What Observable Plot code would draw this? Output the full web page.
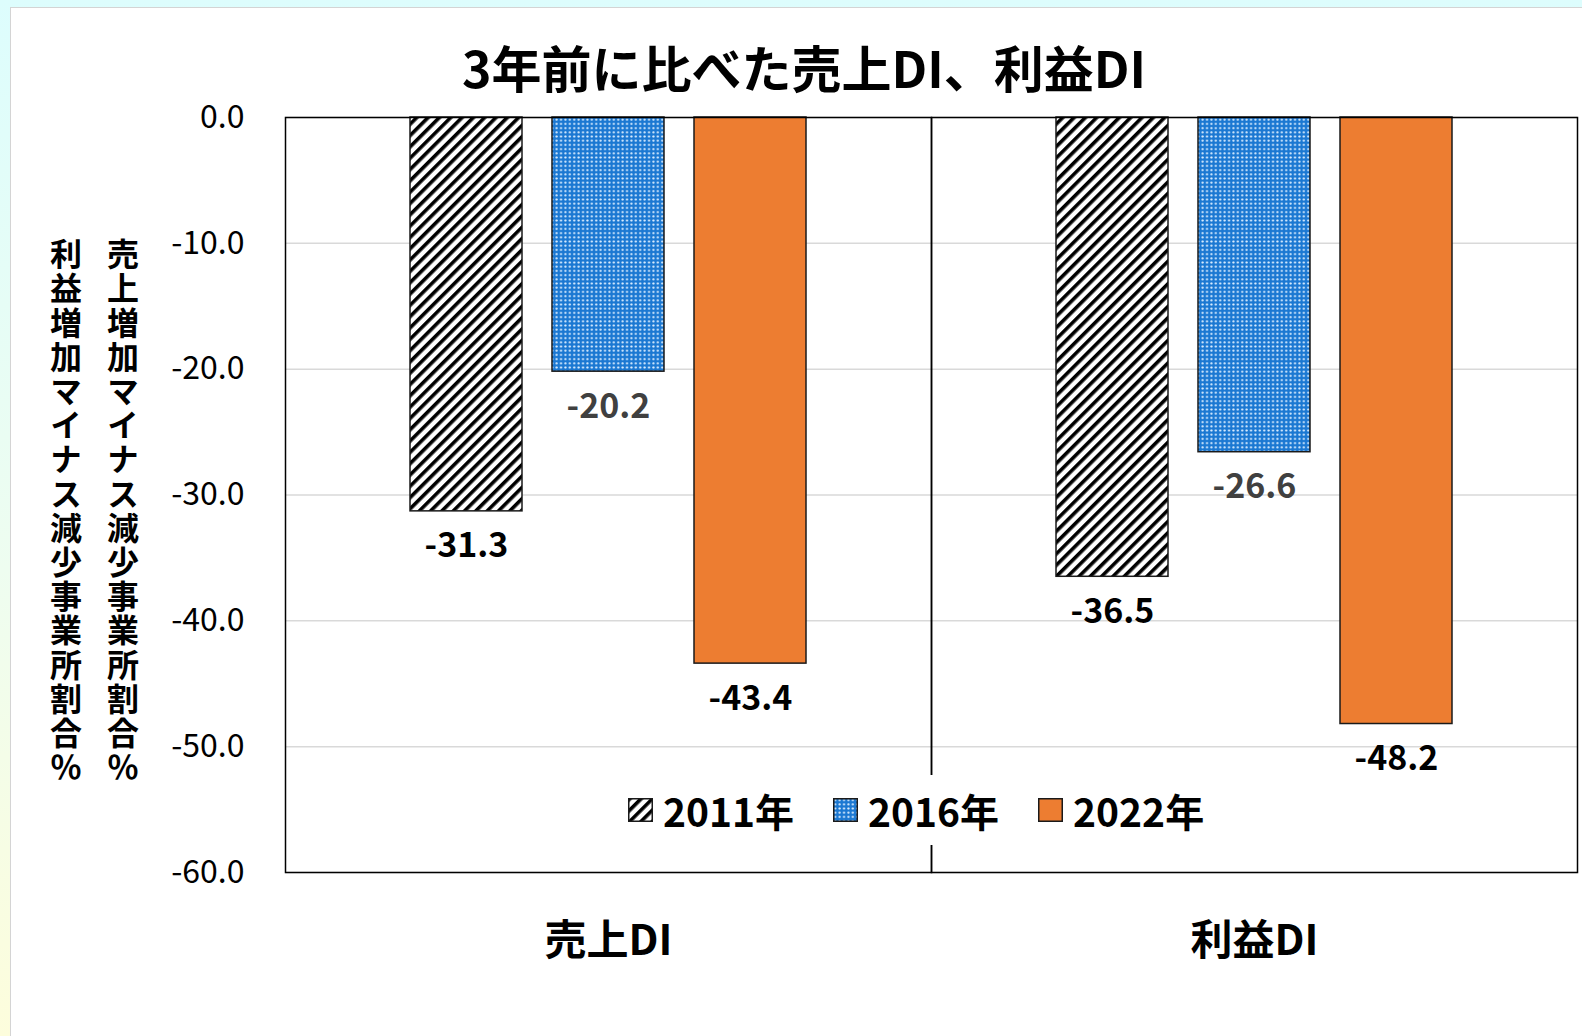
<!DOCTYPE html>
<html><head><meta charset="utf-8">
<script src="https://cdn.jsdelivr.net/npm/d3@7"></script>
<script src="https://cdn.jsdelivr.net/npm/@observablehq/plot@0.6"></script>
<style>
html,body{margin:0;padding:0;}
body{width:1582px;height:1036px;position:relative;overflow:hidden;
  background:linear-gradient(to bottom,#ddfdfd 0%,#eefdf0 55%,#fdfddc 100%);
  font-family:"Noto Sans CJK JP","Noto Sans",sans-serif;}
#panel{position:absolute;left:10px;top:7px;width:1600px;height:1100px;background:#fff;border:1.5px solid #d4d4d4;}
#title{position:absolute;left:804px;top:41px;transform:translateX(-50%);font-size:50px;line-height:50px;font-weight:bold;white-space:nowrap;color:#000;}
#chart{position:absolute;left:0;top:0;}
.ytitle{position:absolute;top:238px;writing-mode:vertical-rl;text-orientation:upright;font-size:32px;line-height:32px;letter-spacing:2.2px;font-weight:bold;color:#000;white-space:nowrap;}
#legend{position:absolute;left:610px;top:775px;height:70px;background:#fff;display:flex;align-items:center;padding:0 14px 0 18px;}
.item{display:flex;align-items:center;margin-right:39px;}
.item:last-child{margin-right:0;}
.item svg{margin-right:10px;}
.item span{font-size:39px;line-height:39px;font-weight:bold;color:#000;}
</style>
</head><body>
<div id="panel"></div>
<div id="chart"></div>
<div id="title"></div>
<div id="ytitle2" class="ytitle" style="left:50px"></div>
<div id="ytitle1" class="ytitle" style="left:107px"></div>
<div id="legend"></div>
<script>
const categories = ["売上DI", "利益DI"];
const years = ["2011年", "2016年", "2022年"];
const values2011 = [-31.3, -36.5];
const values2016 = [-20.2, -26.6];
const values2022 = [-43.4, -48.2];
const yTicks = [0, -10, -20, -30, -40, -50, -60];
const chartTitle = "3年前に比べた売上DI、利益DI";
const yTitleSales = "売上増加マイナス減少事業所割合％";
const yTitleProfit = "利益増加マイナス減少事業所割合％";
const fills = ["url(#hatch)", "url(#dots)", "#ED7D31"];

const seriesValues = [values2011, values2016, values2022];
const rows = [];
categories.forEach((c, i) => years.forEach((y, j) => rows.push({cat: c, year: y, value: seriesValues[j][i]})));

document.getElementById("title").textContent = chartTitle;
document.getElementById("ytitle1").textContent = yTitleSales;
document.getElementById("ytitle2").textContent = yTitleProfit;

const labelOpts = {fx: "cat", x: "year", y: "value", text: d => d.value.toFixed(1), dy: 35, fontSize: 34, fontWeight: "bold", lineAnchor: "middle"};

const chart = Plot.plot({
  width: 1582, height: 1036,
  marginTop: 117, marginLeft: 285, marginRight: 5, marginBottom: 164,
  style: {fontFamily: '"Noto Sans CJK JP", "Noto Sans", sans-serif', background: "transparent", color: "#000", overflow: "visible"},
  fx: {domain: categories, padding: 0, label: null},
  x: {domain: years, paddingInner: 0.21, paddingOuter: 0.864, axis: null},
  y: {domain: [-60, 0], axis: null},
  color: {domain: years, range: fills},
  marks: [
    Plot.gridY(yTicks, {stroke: "#d9d9d9", strokeOpacity: 1, strokeWidth: 1.5}),
    Plot.barY(rows, {fx: "cat", x: "year", y: "value", fill: "year", stroke: "#1a1a1a", strokeWidth: 1.5}),
    Plot.text(rows.filter(d => d.year !== "2016年"), {...labelOpts, fill: "#000"}),
    Plot.text(rows.filter(d => d.year === "2016年"), {...labelOpts, fill: "#404040"}),
    Plot.axisY({ticks: yTicks, tickFormat: d => d.toFixed(1), tickSize: 0, tickPadding: 41, fontSize: 32, anchor: "left", label: null}),
    Plot.axisFx({anchor: "bottom", tickSize: 0, tickPadding: 53, fontSize: 42, fontWeight: "bold", label: null}),
    Plot.frame({stroke: "#000", strokeWidth: 1.5})
  ]
});

const defs = d3.select(chart).insert("defs", ":first-child");
const h = defs.append("pattern").attr("id", "hatch").attr("patternUnits", "userSpaceOnUse")
  .attr("width", 8).attr("height", 8).attr("patternTransform", "rotate(45)");
h.append("rect").attr("width", 8).attr("height", 8).attr("fill", "#fff");
h.append("rect").attr("width", 3.6).attr("height", 8).attr("fill", "#000");
const p = defs.append("pattern").attr("id", "dots").attr("patternUnits", "userSpaceOnUse")
  .attr("width", 4.4).attr("height", 4.2);
p.append("rect").attr("width", 4.4).attr("height", 4.2).attr("fill", "#1b78d2");
p.append("circle").attr("cx", 2.2).attr("cy", 2.1).attr("r", 1.1).attr("fill", "#dceeff");

document.getElementById("chart").appendChild(chart);

const legend = d3.select("#legend");
years.forEach((y, i) => {
  const it = legend.append("div").attr("class", "item");
  const s = it.append("svg").attr("width", 25).attr("height", 24);
  s.append("rect").attr("x", 0.75).attr("y", 0.75).attr("width", 23.5).attr("height", 22.5)
    .attr("fill", fills[i]).attr("stroke", "#1a1a1a").attr("stroke-width", 1.5);
  it.append("span").text(y);
});
</script>
</body></html>
